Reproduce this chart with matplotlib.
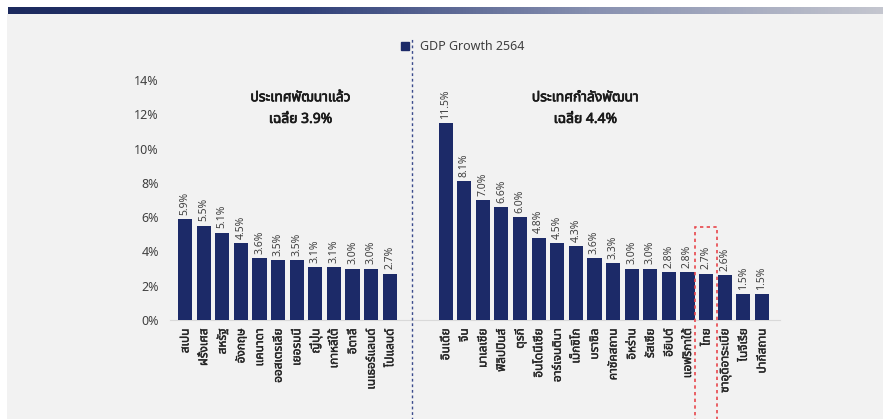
import numpy as np
import matplotlib
matplotlib.use('Agg')
import matplotlib.pyplot as plt
import matplotlib.patheffects as pe
from matplotlib.patches import Rectangle
from matplotlib.lines import Line2D

# Data
developed = ['สเปน', 'ฝรั่งเศส', 'สหรัฐ', 'อังกฤษ', 'แคนาดา', 'ออสเตรเลีย',
             'เยอรมนี', 'ญี่ปุ่น', 'เกาหลีใต้', 'อิตาลี', 'เนเธอร์แลนด์', 'โปแลนด์']
developed_vals = [5.9, 5.5, 5.1, 4.5, 3.6, 3.5, 3.5, 3.1, 3.1, 3.0, 3.0, 2.7]

developing = ['อินเดีย', 'จีน', 'มาเลเซีย', 'ฟิลิปปินส์', 'ตุรกี', 'อินโดนีเซีย',
              'อาร์เจนตินา', 'เม็กซิโก', 'บราซิล', 'คาซัคสถาน', 'อิหร่าน', 'รัสเซีย',
              'อียิปต์', 'แอฟริกาใต้', 'ไทย', 'ซาอุดิอาระเบีย', 'ไนจีเรีย', 'ปากีสถาน']
developing_vals = [11.5, 8.1, 7.0, 6.6, 6.0, 4.8, 4.5, 4.3, 3.6, 3.3, 3.0, 3.0,
                   2.8, 2.8, 2.7, 2.6, 1.5, 1.5]

yticks = [0, 2, 4, 6, 8, 10, 12, 14]
series_name = 'GDP Growth 2564'
dev_title = 'ประเทศพัฒนาแล้ว\nเฉลี่ย 3.9%'
ing_title = 'ประเทศกำลังพัฒนา\nเฉลี่ย 4.4%'

fonts = ['Noto Sans Thai', 'Noto Sans', 'DejaVu Sans']
plt.rcParams['font.family'] = fonts

navy = '#1c2a68'
txt = '#404040'
bg = '#f2f2f2'

fig = plt.figure(figsize=(8.83, 4.19), dpi=100, facecolor='white')

# gray panel + gradient header bar
fig.patches.append(Rectangle((7/883, 0), 1, (419-14)/419, transform=fig.transFigure,
                             facecolor=bg, edgecolor='none', zorder=-10))
grad_ax = fig.add_axes([8/883, (419-14)/419, 1 - 8/883, 7/419])
grad = np.linspace(0, 1, 256).reshape(1, -1)
cmap = matplotlib.colors.LinearSegmentedColormap.from_list(
    'hdr', ['#1c2a5e', '#2f3f78', '#8790b0', '#c4c6cf'])
grad_ax.imshow(grad, aspect='auto', cmap=cmap)
grad_ax.axis('off')

ax = fig.add_axes([170/883, 99/419, 610/883, 240/419])
ax.set_facecolor(bg)

x_dev = np.arange(len(developed))
x_ing = np.arange(len(developing)) + len(developed) + 2
xs = np.concatenate([x_dev, x_ing])
vals = developed_vals + developing_vals
names = developed + developing

bars = ax.bar(xs, vals, width=0.76, color=navy, zorder=3)
for b, v in zip(bars, vals):
    ax.text(b.get_x() + b.get_width() / 2, v + 0.25, '%.1f%%' % v, rotation=90,
            ha='center', va='bottom', fontsize=7.5, color=txt)

ax.set_xlim(-0.81, 31.97)
ax.set_ylim(0, 14)
ax.set_yticks(yticks)
ax.set_yticklabels(['%d%%' % t for t in yticks], fontsize=9, color=txt)
ax.set_xticks(xs)
ax.set_xticklabels(names, rotation=90, fontsize=8.5, color='#262626', va='top')
for lab in ax.get_xticklabels():
    lab.set_path_effects([pe.withStroke(linewidth=0.3, foreground='#262626')])
ax.tick_params(length=0, pad=6)
ax.tick_params(axis='y', pad=8)
for s in ['top', 'right', 'left']:
    ax.spines[s].set_visible(False)
ax.spines['bottom'].set_color('#d9d9d9')

# dashed divider between the two groups
div_x = len(developed) + 0.2
ax.plot([div_x, div_x], [-0.42, 1.18], transform=ax.get_xaxis_transform(),
        color='#3b4b8c', lw=1, ls=(0, (2, 2)), clip_on=False, zorder=4)

# red dashed box around Thailand
thai_x = x_ing[developing.index('ไทย')]
ax.add_patch(Rectangle((thai_x - 0.6, -6), 1.2, 11.4, fill=False, edgecolor='#e8474c',
                       lw=1.2, ls=(0, (2, 2)), clip_on=False, zorder=5))

# group titles (stroke fakes the bold face the Thai font lacks)
bold = [pe.withStroke(linewidth=0.5, foreground='#1a1a1a')]
ax.text(6.2, 13.4, dev_title, ha='center', va='top', fontsize=10,
        color='#1a1a1a', linespacing=1.6, path_effects=bold)
ax.text(21.5, 13.4, ing_title, ha='center', va='top', fontsize=10,
        color='#1a1a1a', linespacing=1.6, path_effects=bold)

# legend
handle = Line2D([], [], marker='s', color=navy, ls='none', markersize=6)
fig.legend([handle], [series_name], loc='center', bbox_to_anchor=(458/883, 372/419),
           frameon=False, fontsize=9, handletextpad=0.2, labelcolor=txt)

fig.savefig('out.png', dpi=100, facecolor='white')
